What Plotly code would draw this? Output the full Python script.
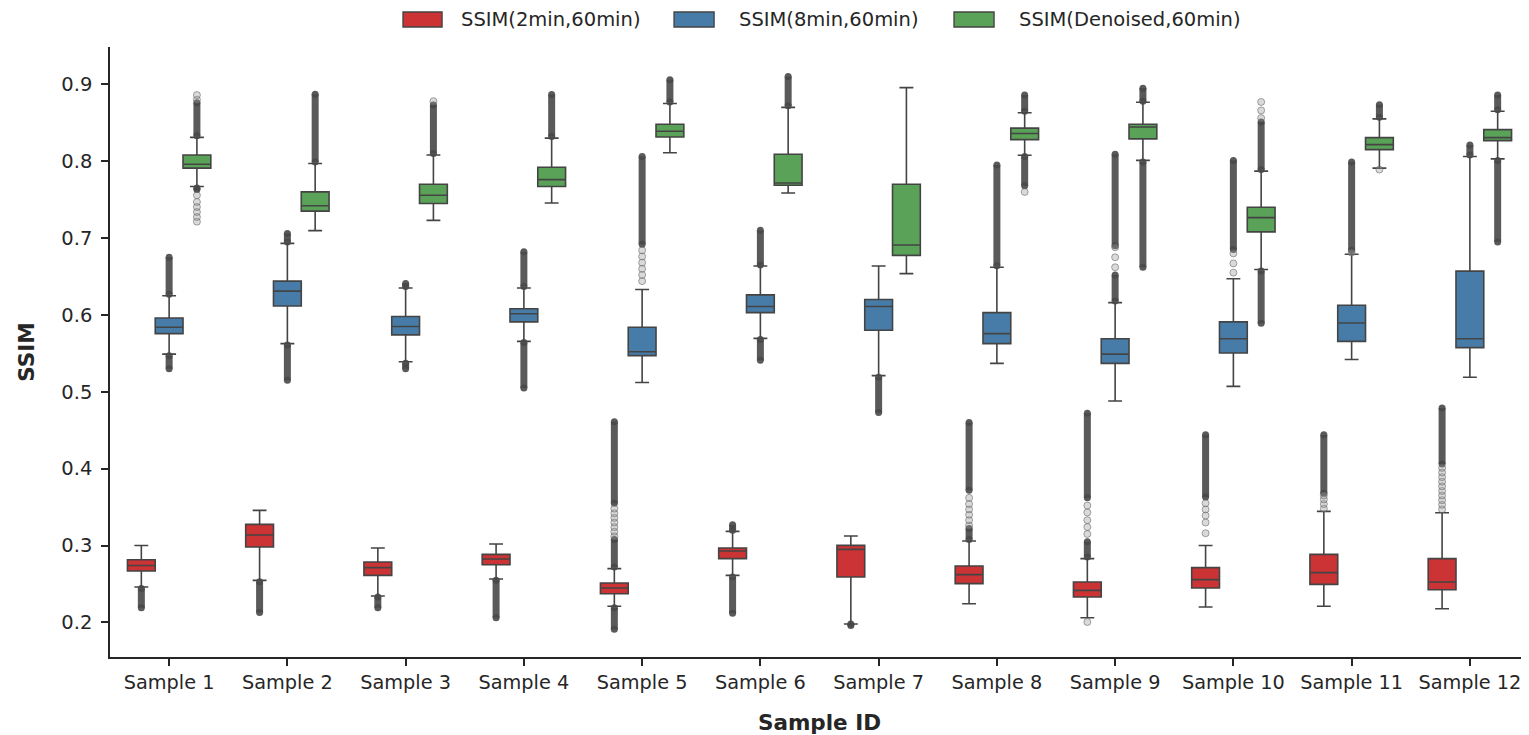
import plotly.graph_objects as go

# ---------------- data ----------------
samples = ["Sample 1", "Sample 2", "Sample 3", "Sample 4", "Sample 5", "Sample 6",
           "Sample 7", "Sample 8", "Sample 9", "Sample 10", "Sample 11", "Sample 12"]

series_names = ["SSIM(2min,60min)", "SSIM(8min,60min)", "SSIM(Denoised,60min)"]

# 2min vs 60min
red_lo  = [0.246, 0.2547, 0.2343, 0.2564, 0.221, 0.2612, 0.198, 0.2243, 0.206, 0.220, 0.221, 0.2177]
red_q1  = [0.2668, 0.298, 0.2612, 0.275, 0.2373, 0.283, 0.259, 0.2504, 0.233, 0.2447, 0.2495, 0.2425]
red_med = [0.274, 0.3137, 0.2712, 0.2825, 0.2447, 0.2929, 0.295, 0.2621, 0.2417, 0.2556, 0.2647, 0.2525]
red_q3  = [0.2815, 0.3275, 0.2785, 0.2885, 0.2512, 0.2968, 0.3002, 0.2734, 0.2525, 0.2712, 0.2885, 0.283]
red_hi  = [0.300, 0.3457, 0.2968, 0.302, 0.270, 0.3184, 0.3124, 0.3059, 0.283, 0.300, 0.3444, 0.3427]
red_dense = [
    [(0.219, 0.244)],
    [(0.213, 0.253)],
    [(0.219, 0.233)],
    [(0.206, 0.255)],
    [(0.191, 0.219), (0.272, 0.308), (0.355, 0.461)],
    [(0.212, 0.259), (0.320, 0.327)],
    [(0.196, 0.198)],
    [(0.308, 0.322), (0.372, 0.460)],
    [(0.285, 0.305), (0.362, 0.472)],
    [(0.363, 0.444)],
    [(0.368, 0.444)],
    [(0.406, 0.479)],
]
red_sparse = [
    [], [], [], [],
    [0.312, 0.318, 0.324, 0.330, 0.336, 0.342, 0.348],
    [], [],
    [0.326, 0.333, 0.340, 0.347, 0.354, 0.362],
    [0.2005, 0.315, 0.324, 0.333, 0.343, 0.352],
    [0.316, 0.330, 0.339, 0.347, 0.355],
    [0.348, 0.354, 0.360, 0.365],
    [0.347, 0.353, 0.359, 0.365, 0.371, 0.377, 0.383, 0.389, 0.395, 0.401],
]

# 8min vs 60min
blue_lo  = [0.549, 0.5626, 0.539, 0.5656, 0.512, 0.5695, 0.521, 0.537, 0.488, 0.507, 0.542, 0.519]
blue_q1  = [0.5756, 0.6116, 0.574, 0.591, 0.547, 0.603, 0.580, 0.5626, 0.537, 0.5504, 0.5656, 0.5574]
blue_med = [0.584, 0.631, 0.585, 0.6016, 0.552, 0.611, 0.611, 0.5756, 0.549, 0.569, 0.5895, 0.569]
blue_q3  = [0.596, 0.644, 0.598, 0.608, 0.584, 0.626, 0.620, 0.603, 0.569, 0.591, 0.6125, 0.657]
blue_hi  = [0.625, 0.693, 0.635, 0.635, 0.633, 0.6636, 0.6636, 0.662, 0.616, 0.647, 0.679, 0.806]
blue_dense = [
    [(0.530, 0.547), (0.627, 0.675)],
    [(0.515, 0.561), (0.695, 0.706)],
    [(0.530, 0.537), (0.637, 0.641)],
    [(0.505, 0.564), (0.637, 0.682)],
    [(0.692, 0.806)],
    [(0.541, 0.568), (0.665, 0.710)],
    [(0.473, 0.519)],
    [(0.664, 0.795)],
    [(0.618, 0.652), (0.690, 0.809)],
    [(0.685, 0.801)],
    [(0.684, 0.799)],
    [(0.808, 0.821)],
]
blue_sparse = [
    [], [], [], [],
    [0.644, 0.652, 0.660, 0.668, 0.676, 0.684],
    [], [], [],
    [0.662, 0.675, 0.688],
    [0.655, 0.667, 0.680],
    [0.681],
    [],
]

# Denoised vs 60min
green_lo  = [0.767, 0.7096, 0.723, 0.7456, 0.811, 0.7586, 0.6537, 0.8076, 0.801, 0.659, 0.791, 0.803]
green_q1  = [0.791, 0.735, 0.745, 0.767, 0.8315, 0.7686, 0.6775, 0.828, 0.829, 0.708, 0.815, 0.8267]
green_med = [0.796, 0.742, 0.7556, 0.776, 0.839, 0.7716, 0.691, 0.836, 0.8445, 0.7265, 0.8215, 0.8306]
green_q3  = [0.808, 0.760, 0.770, 0.792, 0.848, 0.809, 0.770, 0.843, 0.848, 0.740, 0.8306, 0.841]
green_hi  = [0.831, 0.797, 0.808, 0.830, 0.875, 0.870, 0.8957, 0.863, 0.8766, 0.787, 0.855, 0.865]
green_dense = [
    [(0.763, 0.765), (0.833, 0.876)],
    [(0.799, 0.887)],
    [(0.810, 0.873)],
    [(0.832, 0.8866)],
    [(0.877, 0.906)],
    [(0.872, 0.910)],
    [],
    [(0.768, 0.806), (0.865, 0.886)],
    [(0.662, 0.799), (0.878, 0.895)],
    [(0.589, 0.657), (0.789, 0.851)],
    [(0.857, 0.8735)],
    [(0.695, 0.801), (0.867, 0.886)],
]
green_sparse = [
    [0.7213, 0.7274, 0.7339, 0.7404, 0.7469, 0.7556, 0.880, 0.886],
    [], [0.878], [], [], [], [],
    [0.760],
    [],
    [0.856, 0.866, 0.877],
    [0.789],
    [],
]

# ---------------- styling ----------------
colors = ["#cb3335", "#477ca8", "#59a257"]
edge = "#444444"
text_col = "#262626"
offsets = [-0.235, 0.0, 0.235]
box_w = 0.235

stats = [
    (red_lo, red_q1, red_med, red_q3, red_hi, red_dense, red_sparse),
    (blue_lo, blue_q1, blue_med, blue_q3, blue_hi, blue_dense, blue_sparse),
    (green_lo, green_q1, green_med, green_q3, green_hi, green_dense, green_sparse),
]

fig = go.Figure()

for k, (lo, q1, med, q3, hi, dense, sparse) in enumerate(stats):
    xpos = [i + offsets[k] for i in range(len(samples))]
    fig.add_trace(go.Box(
        x=xpos, q1=q1, median=med, q3=q3, lowerfence=lo, upperfence=hi,
        width=box_w, whiskerwidth=0.5, boxpoints=False,
        fillcolor=colors[k], line=dict(color=edge, width=1.6),
        name=series_names[k], showlegend=False, hoverinfo="skip",
    ))

for k, (lo, q1, med, q3, hi, dense, sparse) in enumerate(stats):
    xs, ys = [], []
    for i, ranges in enumerate(dense):
        for (a, b) in ranges:
            xs += [i + offsets[k], i + offsets[k], None]
            ys += [a, b, None]
    fig.add_trace(go.Scatter(
        x=xs, y=ys, mode="lines+markers",
        line=dict(color="rgba(72,72,72,0.9)", width=7),
        marker=dict(size=7, color="rgba(72,72,72,0.9)"),
        showlegend=False, hoverinfo="skip",
    ))
    sx, sy = [], []
    for i, pts in enumerate(sparse):
        for p in pts:
            sx.append(i + offsets[k])
            sy.append(p)
    fig.add_trace(go.Scatter(
        x=sx, y=sy, mode="markers",
        marker=dict(size=7, color="rgba(150,150,150,0.35)",
                    line=dict(color="rgba(95,95,95,0.55)", width=1)),
        showlegend=False, hoverinfo="skip",
    ))

# custom legend (rectangle patches + labels), above the plot area
legend_icons = [(0.2065, 0.2340), (0.3975, 0.4257), (0.5948, 0.6230)]
legend_text_x = [0.2459, 0.4419, 0.6392]
for k in range(3):
    x0, x1 = legend_icons[k]
    fig.add_shape(type="rect", xref="paper", yref="paper",
                  x0=x0, x1=x1, y0=1.0328, y1=1.0574,
                  fillcolor=colors[k], line=dict(color=edge, width=1.4))
    fig.add_annotation(xref="paper", yref="paper", x=legend_text_x[k], y=1.0455,
                       text=series_names[k], showarrow=False, xanchor="left",
                       yanchor="middle", font=dict(size=19.5, color=text_col))

# page body has an 8px margin; compensate so the plot lands where the reference has it
fig.update_layout(
    width=1521, height=727,
    margin=dict(l=102, r=0, t=39, b=78),
    plot_bgcolor="white", paper_bgcolor="white",
    boxmode="overlay",
    font=dict(family="DejaVu Sans", size=19.5, color=text_col),
    showlegend=False,
)
fig.update_xaxes(
    range=[-0.5, 11.5], tickmode="array", tickvals=list(range(len(samples))),
    ticktext=samples, showgrid=False, zeroline=False,
    showline=True, linecolor=text_col, linewidth=1.6,
    ticks="outside", ticklen=7, tickwidth=1.6, tickcolor=text_col,
    tickfont=dict(size=19.3, color=text_col),
    title=dict(text="<b>Sample ID</b>", font=dict(size=21.5, color=text_col), standoff=24),
)
fig.update_yaxes(
    range=[0.155, 0.9485], tickmode="array",
    tickvals=[0.2, 0.3, 0.4, 0.5, 0.6, 0.7, 0.8, 0.9],
    ticktext=["0.2", "0.3", "0.4", "0.5", "0.6", "0.7", "0.8", "0.9"],
    showgrid=False, zeroline=False,
    showline=True, linecolor=text_col, linewidth=1.6,
    ticks="outside", ticklen=7, tickwidth=1.6, tickcolor=text_col,
    ticklabelstandoff=5,
    tickfont=dict(size=19.5, color=text_col),
    title=dict(text="<b>SSIM</b>", font=dict(size=21.5, color=text_col), standoff=21),
)

fig.write_html("out.html")
